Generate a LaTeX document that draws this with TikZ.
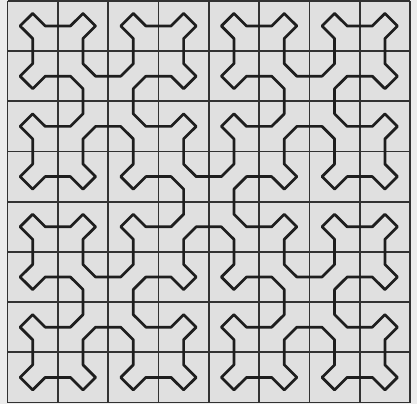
\documentclass[tikz,border=0pt]{standalone}
\definecolor{paper}{RGB}{236,236,236}
\definecolor{cellfill}{RGB}{224,224,224}
\definecolor{gridink}{RGB}{50,50,50}
\definecolor{curveink}{RGB}{30,30,30}
\gdef\wpath{}
\newcommand\wseg[2]{\xdef\wpath{\wpath -- ++(#1,#2)}}
\newcommand\wA[1]{\ifnum#1>0 \expandafter\wAx\expandafter{\the\numexpr#1-1\relax}\fi}
\newcommand\wB[1]{\ifnum#1>0 \expandafter\wBx\expandafter{\the\numexpr#1-1\relax}\fi}
\newcommand\wC[1]{\ifnum#1>0 \expandafter\wCx\expandafter{\the\numexpr#1-1\relax}\fi}
\newcommand\wD[1]{\ifnum#1>0 \expandafter\wDx\expandafter{\the\numexpr#1-1\relax}\fi}
\newcommand\wAx[1]{\wA{#1}\wseg{1}{-1}\wB{#1}\wseg{2}{0}\wD{#1}\wseg{1}{1}\wA{#1}}
\newcommand\wBx[1]{\wB{#1}\wseg{-1}{-1}\wC{#1}\wseg{0}{-2}\wA{#1}\wseg{1}{-1}\wB{#1}}
\newcommand\wCx[1]{\wC{#1}\wseg{-1}{1}\wD{#1}\wseg{-2}{0}\wB{#1}\wseg{-1}{-1}\wC{#1}}
\newcommand\wDx[1]{\wD{#1}\wseg{1}{1}\wA{#1}\wseg{0}{2}\wC{#1}\wseg{-1}{1}\wD{#1}}
\tikzset{
  gridline/.style={draw=gridink, line width=1.8pt},
  curveline/.style={draw=curveink, line width=2.7pt, line join=round, line cap=round}
}
\begin{document}
\begin{tikzpicture}[x=1pt,y=1pt]
\fill[paper] (0,0) rectangle (417,404);
\useasboundingbox (0,0) rectangle (417,404);
\wA{3}\wseg{1}{-1}\wB{3}\wseg{-1}{-1}\wC{3}\wseg{-1}{1}\wD{3}
\begin{scope}[shift={(7.5,1.5)}, x=12.58pt, y=12.55pt]
  \fill[cellfill] (0,0) rectangle (32,32);
  \draw[gridline] (0,0) grid[step=4] (32,32);
  \edef\wdraw{\noexpand\draw[curveline] (2,31) \wpath -- cycle;}
  \wdraw
\end{scope}
\end{tikzpicture}
\end{document}
